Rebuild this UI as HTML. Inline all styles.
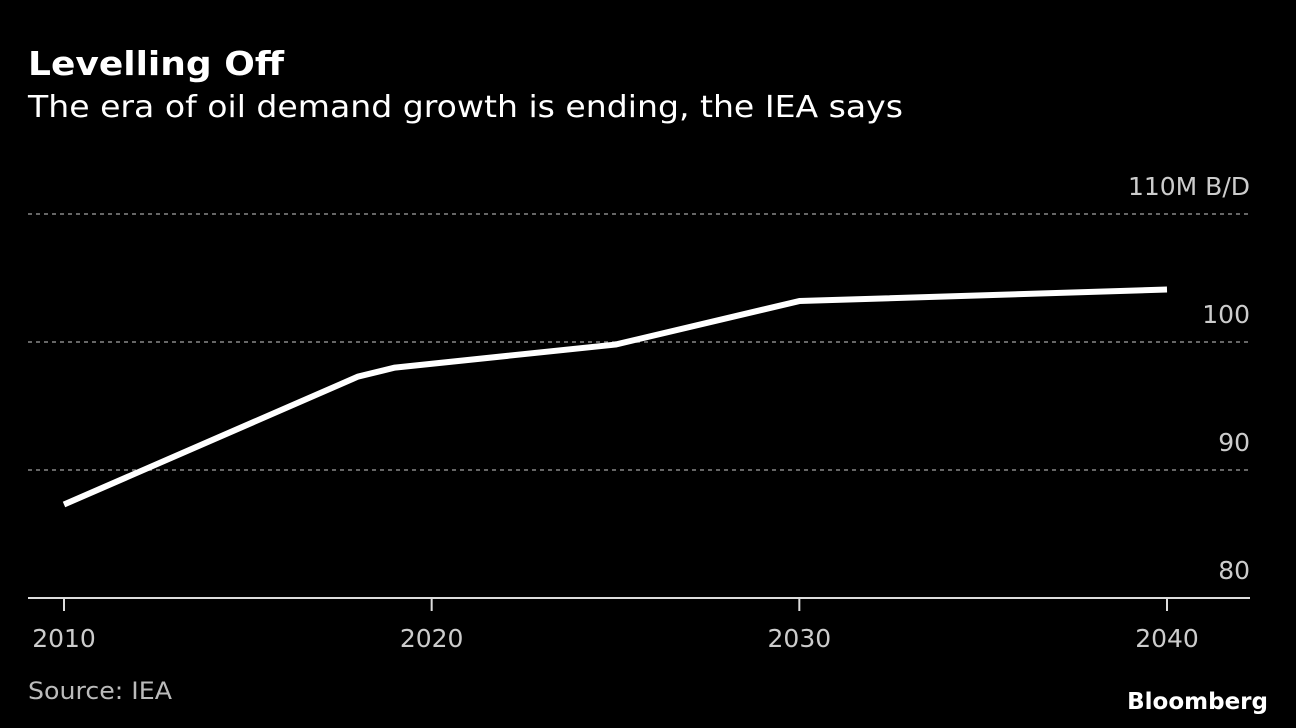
<!DOCTYPE html>
<html><head><meta charset="utf-8"><style>
html,body{margin:0;padding:0;background:#000;width:1296px;height:728px;overflow:hidden}
svg text{font-family:"DejaVu Sans","Liberation Sans",sans-serif}
</style></head><body>
<svg id="chart" width="1296" height="728" xmlns="http://www.w3.org/2000/svg">
<rect width="1296" height="728" fill="#000"/>
<text x="28" y="75" font-size="33" font-weight="bold" fill="#fff" textLength="256" lengthAdjust="spacingAndGlyphs">Levelling Off</text>
<text x="28" y="117" font-size="30" fill="#fff" textLength="875" lengthAdjust="spacingAndGlyphs">The era of oil demand growth is ending, the IEA says</text>
<g id="grid"></g>
<g id="xaxis"></g>
<g id="series"></g>
<text x="28" y="699" font-size="24" fill="#bbb" textLength="144" lengthAdjust="spacingAndGlyphs">Source: IEA</text>
<text x="1268" y="709" font-size="23" font-weight="bold" fill="#fff" text-anchor="end">Bloomberg</text>
</svg>
<script>
const years = [2010, 2018, 2019, 2025, 2030, 2040];
const demand = [87.3, 97.3, 98.0, 99.8, 103.2, 104.1];
const yTicks = [80, 90, 100, 110];
const yTickLabels = ["80", "90", "100", "110M B/D"];
const xTicks = [2010, 2020, 2030, 2040];
const xTickLabels = ["2010", "2020", "2030", "2040"];

const NS = "http://www.w3.org/2000/svg";
const xScale = y => 64 + (y - 2010) * (1167 - 64) / 30;
const yScale = v => 598 - (v - 80) * 12.8;
function mk(tag, attrs, parent){const e=document.createElementNS(NS,tag);for(const k in attrs)e.setAttribute(k,attrs[k]);parent.appendChild(e);return e;}

const grid = document.getElementById('grid');
yTicks.forEach((t,i)=>{
  const y = yScale(t);
  if(i>0){
    const l = mk('line',{x1:28,x2:1250,y1:y,y2:y,stroke:'#888','stroke-width':1.5,'stroke-dasharray':'4,4'},grid);
    
    
  }
  const tx = mk('text',{x:1250,y:y-19,'font-size':25,fill:'#ccc','text-anchor':'end'},grid);
  tx.textContent = yTickLabels[i];
  
  
});

const xa = document.getElementById('xaxis');
const base = mk('line',{x1:28,x2:1250,y1:598,y2:598,stroke:'#ddd','stroke-width':2},xa);


xTicks.forEach((t,i)=>{
  const x = xScale(t);
  const tk = mk('line',{x1:x,x2:x,y1:598,y2:611,stroke:'#ddd','stroke-width':2},xa);
  
  
  const tx = mk('text',{x:x,y:647,'font-size':25,fill:'#ccc','text-anchor':'middle'},xa);
  tx.textContent = xTickLabels[i];
  
  
});

const s = document.getElementById('series');
const pts = years.map((y,i)=>xScale(y)+','+yScale(demand[i])).join(' ');
const line = mk('polyline',{points:pts,fill:'none',stroke:'#fff','stroke-width':6,'stroke-linejoin':'round'},s);


</script>
</body></html>
